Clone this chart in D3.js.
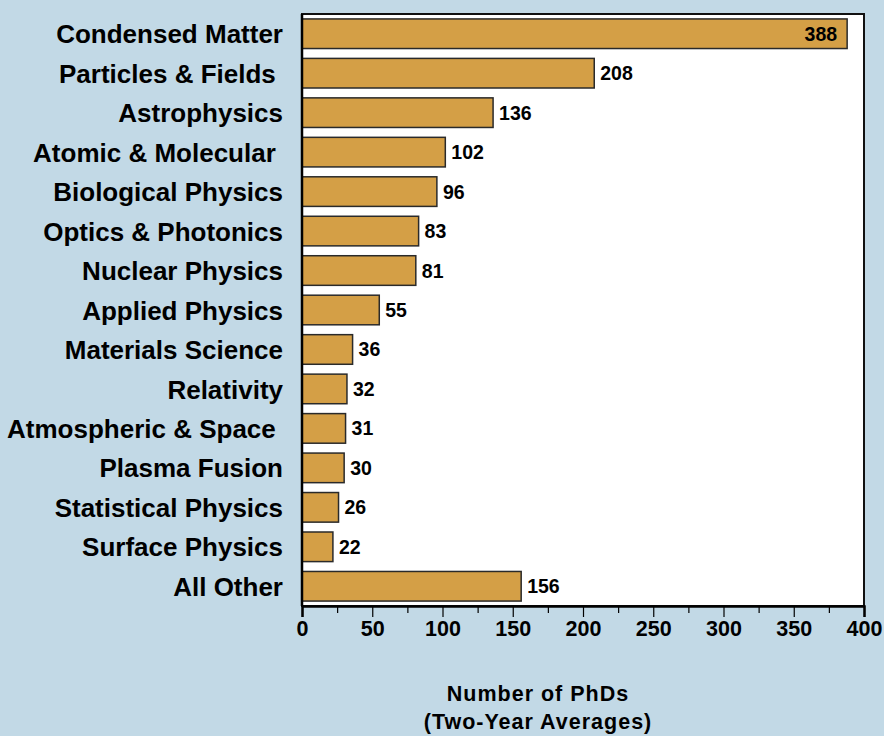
<!DOCTYPE html>
<html>
<head>
<meta charset="utf-8">
<script src="https://cdn.jsdelivr.net/npm/d3@7"></script>
<style>
  html, body { margin: 0; padding: 0; background: #C2D9E6; }
  svg { display: block; font-family: "Liberation Sans", Arial, sans-serif; font-weight: bold; }
  text { white-space: pre; }
</style>
</head>
<body>
<svg id="chart" width="884" height="736"></svg>
<script>
const categories = ["Condensed Matter", "Particles & Fields ", "Astrophysics", "Atomic & Molecular ",
  "Biological Physics", "Optics & Photonics", "Nuclear Physics", "Applied Physics",
  "Materials Science", "Relativity", "Atmospheric & Space ", "Plasma Fusion",
  "Statistical Physics", "Surface Physics", "All Other"];
const values = [388, 208, 136, 102, 96, 83, 81, 55, 36, 32, 31, 30, 26, 22, 156];
const majorTicks = [0, 50, 100, 150, 200, 250, 300, 350, 400];
const minorTicks = [25, 75, 125, 175, 225, 275, 325, 375];
const axisTitle = ["Number of PhDs", "(Two-Year Averages)"];

(function () {
const svg = d3.select("#chart");
const pLeft = 302, pRight = 864, pTop = 14, pBottom = 606;

const x = d3.scaleLinear().domain([0, 400]).range([pLeft, pRight]);
const y = d3.scaleBand().domain(categories).range([pTop, pBottom]).paddingInner(0.25).paddingOuter(0.125);

// plot frame
svg.append("rect")
  .attr("x", pLeft).attr("y", pTop)
  .attr("width", pRight - pLeft).attr("height", pBottom - pTop)
  .attr("fill", "#ffffff").attr("stroke", "#111").attr("stroke-width", 2);

// bars
svg.append("g").selectAll("rect")
  .data(values)
  .join("rect")
  .attr("x", x(0))
  .attr("y", (d, i) => y(categories[i]))
  .attr("width", d => x(d) - x(0))
  .attr("height", y.bandwidth())
  .attr("fill", "#D49F46")
  .attr("stroke", "#2a2a2a")
  .attr("stroke-width", 1.5);

// value labels
svg.append("g").selectAll("text")
  .data(values)
  .join("text")
  .attr("x", d => d > 350 ? x(d) - 10 : x(d) + 6)
  .attr("y", (d, i) => y(categories[i]) + y.bandwidth() / 2)
  .attr("dy", "0.36em")
  .attr("text-anchor", d => d > 350 ? "end" : "start")
  .attr("font-size", 19.5)
  .attr("fill", "#000")
  .text(d => d);

// category labels
svg.append("g").selectAll("text")
  .data(categories)
  .join("text")
  .attr("x", 283)
  .attr("y", d => y(d) + y.bandwidth() / 2)
  .attr("dy", "0.37em")
  .attr("text-anchor", "end")
  .attr("font-size", 26)
  .attr("fill", "#000")
  .text(d => d);

// left axis line (thick)
svg.append("line")
  .attr("x1", pLeft).attr("x2", pLeft)
  .attr("y1", pTop).attr("y2", pBottom)
  .attr("stroke", "#000").attr("stroke-width", 2.5);

// x axis
const xAxis = d3.axisBottom(x).tickValues(majorTicks).tickSize(11).tickPadding(4).tickFormat(d3.format("d"));
const gx = svg.append("g").attr("transform", `translate(0,${pBottom})`).call(xAxis);
gx.select(".domain").attr("stroke", "#000").attr("stroke-width", 2.5);
gx.selectAll(".tick line").attr("stroke", "#000").attr("stroke-width", 1.2);
gx.selectAll(".tick text").attr("font-size", 21.5).attr("font-family", "Liberation Sans, Arial, sans-serif").attr("font-weight", "bold").attr("fill", "#000");

const gxm = svg.append("g").attr("transform", `translate(0,${pBottom})`)
  .call(d3.axisBottom(x).tickValues(minorTicks).tickSize(7).tickFormat(""));
gxm.select(".domain").remove();
gxm.selectAll(".tick line").attr("stroke", "#000").attr("stroke-width", 1.2);

// axis title
svg.append("g").selectAll("text")
  .data(axisTitle)
  .join("text")
  .attr("x", 538)
  .attr("y", (d, i) => 701 + i * 28)
  .attr("text-anchor", "middle")
  .attr("font-size", 21.5)
  .attr("letter-spacing", "1px")
  .attr("fill", "#000")
  .text(d => d);
})();
</script>
</body>
</html>
